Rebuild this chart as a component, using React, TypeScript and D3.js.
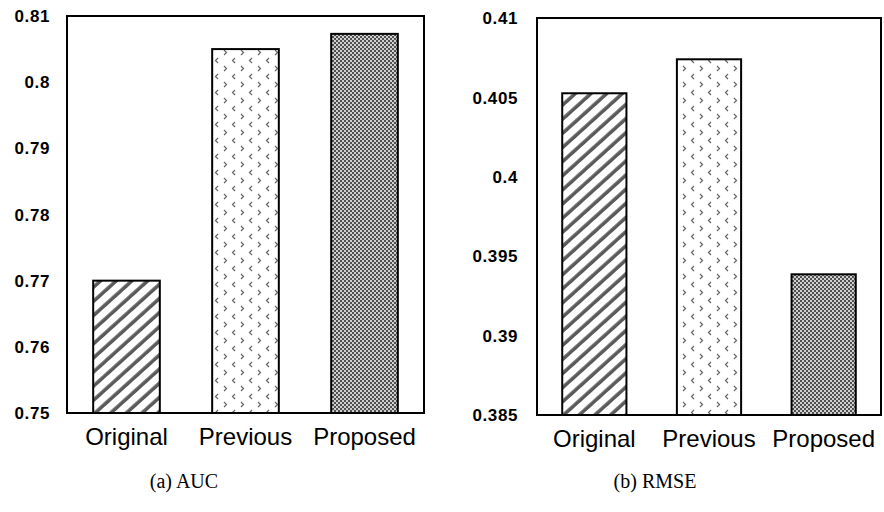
import * as d3 from 'd3';

const categories = ['Original', 'Previous', 'Proposed'];

const aucValues = [0.77, 0.805, 0.8073];
const aucTicks = [0.75, 0.76, 0.77, 0.78, 0.79, 0.8, 0.81];
const aucTickLabels = ['0.75', '0.76', '0.77', '0.78', '0.79', '0.8', '0.81'];

const rmseValues = [0.40526, 0.4074, 0.39386];
const rmseTicks = [0.385, 0.39, 0.395, 0.4, 0.405, 0.41];
const rmseTickLabels = ['0.385', '0.39', '0.395', '0.4', '0.405', '0.41'];

const patternIds = ['pat-stripe', 'pat-arrows', 'pat-checker'];

type PanelProps = {
  left: number;
  right: number;
  top: number;
  bottom: number;
  domain: [number, number];
  values: number[];
  ticks: number[];
  tickLabels: string[];
  labelGap: number;
  catBaseline: number;
  caption: string;
  captionX: number;
};

const Panel = (p: PanelProps) => {
  const x = d3.scaleBand<string>()
    .domain(categories)
    .range([p.left, p.right])
    .paddingInner(0.44)
    .paddingOuter(0.22);
  const y = d3.scaleLinear().domain(p.domain).range([p.bottom, p.top]);

  return (
    <g>
      {p.values.map((v, i) => (
        <rect
          key={categories[i]}
          x={x(categories[i])}
          y={y(v)}
          width={x.bandwidth()}
          height={y(p.domain[0]) - y(v)}
          fill={`url(#${patternIds[i]})`}
          stroke="#000"
          strokeWidth={2}
        />
      ))}
      <rect
        x={p.left}
        y={p.top}
        width={p.right - p.left}
        height={p.bottom - p.top}
        fill="none"
        stroke="#000"
        strokeWidth={2}
      />
      {p.ticks.map((t, i) => (
        <text
          key={t}
          x={p.left - p.labelGap}
          y={y(t)}
          dy="0.36em"
          textAnchor="end"
          fontFamily="'Liberation Sans', Arial, sans-serif"
          fontWeight="bold"
          fontSize={17}
          letterSpacing={0.6}
        >
          {p.tickLabels[i]}
        </text>
      ))}
      {categories.map(c => (
        <text
          key={c}
          x={x(c)! + x.bandwidth() / 2}
          y={p.catBaseline}
          textAnchor="middle"
          fontFamily="'Liberation Sans', Arial, sans-serif"
          fontSize={24}
        >
          {c}
        </text>
      ))}
      <text
        x={p.captionX}
        y={488}
        textAnchor="middle"
        fontFamily="'Liberation Serif', 'Times New Roman', serif"
        fontSize={20}
      >
        {p.caption}
      </text>
    </g>
  );
};

const App = () => {
  return (
    <svg
      width={884}
      height={512}
      style={{ position: 'absolute', left: 0, top: 0, background: '#fff' }}
    >
      <defs>
        <pattern
          id="pat-stripe"
          patternUnits="userSpaceOnUse"
          width={10.5}
          height={10.5}
          patternTransform="rotate(48)"
        >
          <rect width={10.5} height={10.5} fill="#fff" />
          <line x1={3} y1={0} x2={3} y2={10.5} stroke="#5a5a5a" strokeWidth={3.6} />
        </pattern>
        <pattern id="pat-arrows" patternUnits="userSpaceOnUse" width={17} height={16}>
          <rect width={17} height={16} fill="#fff" />
          <path d="M3,2 L5.5,4.5 L3,7" fill="none" stroke="#666" strokeWidth={1.2} />
          <path d="M14,10 L11.5,12.5 L14,15" fill="none" stroke="#666" strokeWidth={1.2} />
        </pattern>
        <pattern id="pat-checker" patternUnits="userSpaceOnUse" width={4} height={4}>
          <rect width={4} height={4} fill="#cfcfcf" />
          <rect x={0} y={0} width={2} height={2} fill="#505050" />
          <rect x={2} y={2} width={2} height={2} fill="#505050" />
        </pattern>
      </defs>
      <rect width={884} height={512} fill="#fff" />
      <Panel
        left={67}
        right={424}
        top={16}
        bottom={413}
        domain={[0.75, 0.81]}
        values={aucValues}
        ticks={aucTicks}
        tickLabels={aucTickLabels}
        labelGap={17}
        catBaseline={445}
        caption="(a) AUC"
        captionX={184}
      />
      <Panel
        left={537}
        right={881}
        top={18}
        bottom={415}
        domain={[0.385, 0.41]}
        values={rmseValues}
        ticks={rmseTicks}
        tickLabels={rmseTickLabels}
        labelGap={19}
        catBaseline={447}
        caption="(b) RMSE"
        captionX={655}
      />
    </svg>
  );
};

export default App;
